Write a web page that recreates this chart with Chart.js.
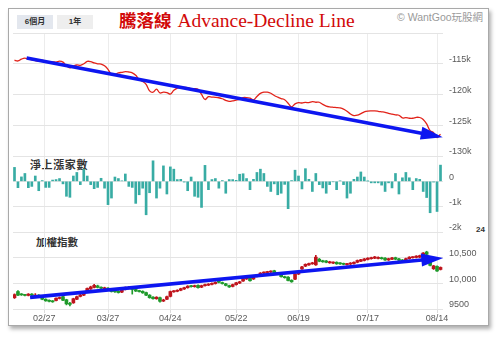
<!DOCTYPE html>
<html>
<head>
<meta charset="utf-8">
<script src="https://cdn.jsdelivr.net/npm/chart.js@4.4.1/dist/chart.umd.min.js"></script>
<style>
  html, body { margin: 0; padding: 0; background: #fff; }
  #wrap { position: relative; width: 500px; height: 341px; overflow: hidden; }
  #frame { position: absolute; left: 8px; top: 8px; width: 479px; height: 316px;
           border: 1px solid #a9a9a9; background: #fff;
           box-shadow: 2px 3px 4px rgba(0,0,0,0.32); }
  canvas { position: absolute; left: 0; top: 0; }
  .txt { position: absolute; white-space: nowrap; }
  .btn { position: absolute; top: 15px; width: 36px; height: 14px; line-height: 14px;
         text-align: center; font: bold 8px "Liberation Sans", Arial, "Noto Sans CJK TC", sans-serif; color: #333; }
  #title { left: 119px; top: 11px; font: 19.5px "Liberation Serif", "Times New Roman", serif;
           line-height: 20px; color: #d20a0a; }
  #title .cjk { font: bold 17.5px "Noto Sans CJK TC", sans-serif; line-height: 0; }
  #title .lat { margin-left: 6px; }
  #brand { left: 397px; top: 12px; font: 10.5px "Liberation Sans", Arial, "Noto Sans CJK TC", sans-serif;
           line-height: 10.5px; color: #9a9a9a; }
  .pane { font-family: "Liberation Sans", Arial, "Noto Sans CJK TC", sans-serif; font-weight: bold; color: #333; }
</style>
</head>
<body>
<div id="wrap">
  <div id="frame"></div>
  <div class="btn" style="left:17px;background:#e3e7ee;">6個月</div>
  <div class="btn" style="left:57px;background:#eeeeee;">1年</div>
  <div id="title" class="txt"><span class="cjk">騰落線</span><span class="lat">Advance-Decline Line</span></div>
  <div id="brand" class="txt">© WantGoo玩股網</div>
  <div class="txt pane" style="left:30px;top:160px;font-size:11px;line-height:11px;letter-spacing:0.6px;">淨上漲家數</div>
  <div class="txt pane" style="left:36px;top:237px;font-size:10.5px;line-height:10.5px;">加權指數</div>
  <div class="txt pane" style="left:476px;top:226px;font-size:8px;line-height:8px;">24</div>
  <canvas id="c" width="500" height="341"></canvas>
</div>
<script>
// Trading calendar: weekdays between the first and last session, minus market holidays
const firstDay = '2017-02-14';
const lastDay = '2017-08-15';
const holidays = ['2017-02-27', '2017-02-28', '2017-04-03', '2017-04-04', '2017-05-01', '2017-05-29', '2017-05-30'];

// Date axis labels
const tickDays = ['2017-02-27', '2017-03-27', '2017-04-24', '2017-05-22', '2017-06-19', '2017-07-17', '2017-08-14'];
const tickLabels = ['02/27', '03/27', '04/24', '05/22', '06/19', '07/17', '08/14'];

// Advance-decline line (cumulative)
const adLine = [
  -114430, -114550, -114250, -114090, -114240, -114350, -114510, -114600, -114430, -114600,
  -114760, -114680, -114730, -114580, -114730, -115330, -115660, -115380, -115200, -115250,
  -115000, -114610, -114650, -114870, -115020, -115050, -115330, -115900, -116760, -116700,
  -116500, -116390, -116280, -116340, -116470, -116880, -117550, -117870, -118350, -119400,
  -119630, -119140, -119750, -119620, -119680, -119930, -119320, -118950, -118820, -118850,
  -118880, -119080, -119050, -119160, -119980, -120810, -120350, -120420, -120460, -120530,
  -120690, -120950, -121130, -121020, -120920, -120790, -120510, -120500, -120600, -120870,
  -120320, -119810, -119620, -119630, -119800, -120160, -120430, -120660, -120860, -121410,
  -122010, -121520, -121330, -121380, -121280, -121330, -121170, -121260, -121260, -121610,
  -121880, -122010, -122080, -122130, -122190, -122370, -122710, -123170, -123430, -123370,
  -123120, -122830, -122700, -122670, -122670, -122730, -122810, -122890, -123060, -123190,
  -123320, -123370, -123810, -123770, -123860, -123860, -123710, -123740, -124050, -124780,
  -125880, -126200, -127000, -126450
];

// Net advancing issues per session
const netAdvances = [
   550, -250,  175,  310, -250, -200,  210, -370,   30, -240,
  -240,   50,   70,  110, -100, -590, -630,  210,  350, -130,
   480,  210, -130, -290, -240,  120, -270, -920, -660,  170,
   110,   20,  290, -200, -240, -870, -530, -270,-1320, -450,
   810, -660, -270,  610, -500,  570,  480,   70,   80,  -30,
  -370,  170, -590, -630,-1030,  630, -330,   70,  110, -270,
    30, -470,   70,   70,   40,  280,  300,  110, -330,   80,
   350,  480,  310, -200, -400, -100, -530, -470, -120,-1080,
    30,  440,  210, -300,  500,   80, -400,  310, -130, -260,
  -470, -130,  -20, -330,   20, -130, -660, -470,   80,  170,
   370,  170,   10,  -60,  -60,  -60, -150, -400,  -60, -260,
   310, -500,  140,  350,  140, -330,  110,   80, -400, -640,
 -1240,  -30,-1190,  640
];

// Weighted index daily candles
const idxOpen = [
  9720, 9840, 9785, 9775, 9765, 9790, 9745, 9770, 9720, 9690,
  9670, 9655, 9665, 9705, 9740, 9680, 9610, 9620, 9690, 9745,
  9770, 9840, 9890, 9920, 9950, 9920, 9895, 9905, 9875, 9850,
  9845, 9830, 9880, 9900, 9910, 9880, 9855, 9845, 9820, 9770,
  9730, 9700, 9720, 9655, 9690, 9746, 9835, 9845, 9865, 9890,
  9915, 9950, 9935, 9960, 9925, 9955, 9965, 9980, 9995, 10035,
  10015, 9990, 9955, 9940, 9975, 10005, 10045, 10085, 10115, 10085,
  10135, 10170, 10200, 10210, 10220, 10245, 10185, 10160, 10130, 10120,
  10060, 10080, 10180, 10280, 10335, 10360, 10380, 10360, 10470, 10440,
  10435, 10400, 10395, 10410, 10395, 10385, 10365, 10375, 10385, 10410,
  10430, 10445, 10465, 10480, 10490, 10485, 10500, 10490, 10455, 10470,
  10500, 10475, 10455, 10430, 10480, 10500, 10505, 10510, 10540, 10610,
  10445, 10285, 10330, 10270
];
const idxHigh = [
  9795, 9860, 9800, 9785, 9800, 9800, 9800, 9780, 9735, 9700,
  9680, 9665, 9720, 9735, 9750, 9690, 9630, 9710, 9750, 9790,
  9815, 9910, 9945, 9980, 9965, 9930, 9925, 9915, 9885, 9860,
  9855, 9890, 9930, 9935, 9920, 9890, 9865, 9855, 9830, 9780,
  9740, 9740, 9730, 9690, 9750, 9850, 9860, 9875, 9905, 9925,
  9955, 9960, 9965, 9970, 9965, 9985, 9995, 10010, 10030, 10045,
  10025, 10000, 9965, 9985, 10020, 10040, 10105, 10120, 10125, 10150,
  10170, 10210, 10225, 10235, 10245, 10255, 10210, 10170, 10140, 10130,
  10070, 10190, 10230, 10330, 10380, 10395, 10410, 10545, 10485, 10450,
  10445, 10430, 10420, 10420, 10405, 10395, 10390, 10405, 10420, 10455,
  10470, 10485, 10500, 10510, 10525, 10515, 10510, 10500, 10490, 10505,
  10510, 10485, 10465, 10490, 10520, 10520, 10540, 10550, 10600, 10625,
  10455, 10350, 10340, 10320
];
const idxLow = [
  9705, 9760, 9765, 9755, 9755, 9760, 9720, 9740, 9680, 9650,
  9640, 9630, 9655, 9695, 9660, 9580, 9560, 9610, 9680, 9735,
  9760, 9830, 9880, 9910, 9910, 9895, 9885, 9870, 9830, 9825,
  9810, 9820, 9870, 9890, 9790, 9840, 9830, 9805, 9760, 9710,
  9690, 9690, 9635, 9645, 9680, 9735, 9825, 9835, 9855, 9880,
  9905, 9925, 9925, 9905, 9915, 9945, 9955, 9970, 9985, 10010,
  9985, 9950, 9920, 9930, 9965, 9995, 10035, 10075, 10040, 10075,
  10125, 10160, 10190, 10200, 10210, 10170, 10175, 10120, 10100, 10045,
  10020, 10070, 10170, 10270, 10325, 10350, 10370, 10350, 10420, 10410,
  10400, 10390, 10385, 10370, 10370, 10360, 10355, 10365, 10375, 10400,
  10420, 10435, 10455, 10470, 10480, 10475, 10470, 10445, 10445, 10460,
  10460, 10440, 10410, 10420, 10470, 10490, 10495, 10500, 10530, 10555,
  10340, 10270, 10230, 10260
];
const idxClose = [
  9780, 9770, 9775, 9765, 9790, 9770, 9770, 9750, 9690, 9660,
  9650, 9640, 9710, 9720, 9670, 9600, 9590, 9700, 9740, 9775,
  9800, 9900, 9930, 9960, 9920, 9905, 9910, 9880, 9840, 9835,
  9820, 9880, 9920, 9920, 9880, 9850, 9840, 9815, 9770, 9720,
  9700, 9730, 9650, 9675, 9740, 9840, 9850, 9865, 9895, 9915,
  9945, 9935, 9955, 9915, 9955, 9975, 9985, 10000, 10020, 10020,
  9995, 9960, 9930, 9975, 10010, 10030, 10095, 10110, 10050, 10140,
  10160, 10200, 10215, 10225, 10232, 10180, 10200, 10130, 10110, 10055,
  10030, 10180, 10220, 10320, 10370, 10385, 10400, 10510, 10430, 10420,
  10410, 10420, 10410, 10380, 10380, 10370, 10380, 10395, 10410, 10445,
  10460, 10475, 10490, 10500, 10515, 10505, 10480, 10455, 10480, 10495,
  10470, 10450, 10420, 10480, 10510, 10510, 10530, 10540, 10590, 10565,
  10350, 10340, 10240, 10310
];

// Hand-drawn trend arrows, [session index, value] from tail to tip
const adTrend = [[3.5, -114080], [123.65, -126950]];
const idxTrend = [[4.5, 9726], [123.8, 10494]];

// ---- calendar helpers ----
const DAY = 86400000;
const toTime = s => Date.parse(s + 'T00:00:00Z');
const sessions = [];
for (let t = toTime(firstDay); t <= toTime(lastDay); t += DAY) {
  const d = new Date(t), wd = d.getUTCDay();
  const iso = d.toISOString().slice(0, 10);
  if (wd !== 0 && wd !== 6 && !holidays.includes(iso)) sessions.push(t);
}
// place a calendar date on the session axis (between sessions when the market was closed)
function sessionPos(iso) {
  const t = toTime(iso);
  const exact = sessions.indexOf(t);
  if (exact >= 0) return exact;
  let n = sessions.findIndex(s => s > t);
  if (n <= 0) return n < 0 ? sessions.length - 1 : 0;
  const p = n - 1;
  return p + (t - sessions[p]) / (sessions[n] - sessions[p]);
}
const tickPos = tickDays.map(sessionPos);

const RED_LINE = '#e2231a';
const TEAL = '#38aca4';
const UP = '#bf141c';
const DOWN = '#1f9a2b';
const BLUE = '#0d16f0';
const GRID = '#e4e4e4';
const TICK_FONT = { family: "'Liberation Sans', Arial, sans-serif", size: 9 };
const TICK_COLOR = '#5a5a5a';

const candleColor = c => (idxClose[c.dataIndex] >= idxOpen[c.dataIndex] ? UP : DOWN);

const arrowPlugin = {
  id: 'trendArrows',
  afterDatasetsDraw(chart) {
    const ctx = chart.ctx, xs = chart.scales.x;
    [{ axis: 'yAD', pts: adTrend }, { axis: 'yIdx', pts: idxTrend }].forEach(({ axis, pts }) => {
      const ys = chart.scales[axis];
      const x1 = xs.getPixelForValue(pts[0][0]), y1 = ys.getPixelForValue(pts[0][1]);
      const x2 = xs.getPixelForValue(pts[1][0]), y2 = ys.getPixelForValue(pts[1][1]);
      const len = Math.hypot(x2 - x1, y2 - y1), ux = (x2 - x1) / len, uy = (y2 - y1) / len;
      const headLen = 22, half = 6.5;
      const bx = x2 - ux * headLen, by = y2 - uy * headLen;
      ctx.save();
      ctx.strokeStyle = BLUE; ctx.fillStyle = BLUE; ctx.lineWidth = 3.6;
      ctx.beginPath(); ctx.moveTo(x1, y1); ctx.lineTo(bx + ux * 3, by + uy * 3); ctx.stroke();
      ctx.beginPath();
      ctx.moveTo(x2, y2);
      ctx.lineTo(bx - uy * half, by + ux * half);
      ctx.lineTo(bx + uy * half, by - ux * half);
      ctx.closePath(); ctx.fill();
      ctx.restore();
    });
  }
};

const yCommon = {
  position: 'right', stack: 'panes', offset: false, beginAtZero: false,
  border: { display: false },
  grid: { color: GRID, drawTicks: false },
  afterFit: s => { s.width = 44; }
};
const yTicks = { autoSkip: false, padding: 6, labelOffset: -4, font: TICK_FONT, color: TICK_COLOR };

new Chart(document.getElementById('c'), {
  type: 'line',
  data: {
    datasets: [
      {
        type: 'line', label: '騰落線', yAxisID: 'yAD',
        data: adLine.map((v, i) => ({ x: i, y: v })),
        borderColor: RED_LINE, borderWidth: 1.3, pointRadius: 0, tension: 0.35, fill: false
      },
      {
        type: 'bar', label: '淨上漲家數', yAxisID: 'yNet', grouped: false,
        data: netAdvances.map((v, i) => ({ x: i, y: v })),
        backgroundColor: TEAL, barThickness: 2
      },
      {
        type: 'bar', label: '加權指數', yAxisID: 'yIdx', grouped: false,
        data: idxOpen.map((o, i) => ({ x: i, y: [o, idxClose[i]] })),
        backgroundColor: candleColor, barThickness: 3, minBarLength: 1
      },
      {
        type: 'bar', label: '加權指數 high-low', yAxisID: 'yIdx', grouped: false,
        data: idxHigh.map((h, i) => ({ x: i, y: [idxLow[i], h] })),
        backgroundColor: candleColor, barThickness: 1
      }
    ]
  },
  options: {
    responsive: false,
    animation: false,
    devicePixelRatio: 1,
    layout: { padding: { left: 13, right: 13, top: 33, bottom: 12 } },
    plugins: { legend: { display: false }, tooltip: { enabled: false } },
    scales: {
      x: {
        type: 'linear', min: -0.433, max: 123.72, offset: false,
        afterBuildTicks: s => { s.ticks = tickPos.map(v => ({ value: v })); },
        afterFit: s => { s.height = 20; },
        border: { display: false },
        grid: { color: '#ececec', offset: false, tickLength: 4, tickColor: '#dcdcdc' },
        ticks: {
          autoSkip: false, maxRotation: 0, padding: 0, font: TICK_FONT, color: TICK_COLOR,
          callback: (v, i) => tickLabels[i]
        }
      },
      yAD: Object.assign({}, yCommon, {
        stackWeight: 123, min: -130000, max: -110000,
        ticks: Object.assign({}, yTicks, {
          stepSize: 5000,
          callback: v => (v === -110000 ? '' : (v / 1000) + 'k')
        })
      }),
      yNet: Object.assign({}, yCommon, {
        stackWeight: 76, min: -2000, max: 1000,
        ticks: Object.assign({}, yTicks, {
          stepSize: 1000,
          callback: v => (v === 1000 ? '' : v === 0 ? '0' : (v / 1000) + 'k')
        })
      }),
      yIdx: Object.assign({}, yCommon, {
        stackWeight: 77, min: 9500, max: 11000,
        ticks: Object.assign({}, yTicks, {
          stepSize: 500,
          callback: v => (v === 11000 ? '' : v >= 10000 ? v.toLocaleString('en-US') : String(v))
        })
      })
    }
  },
  plugins: [arrowPlugin]
});
</script>
</body>
</html>
